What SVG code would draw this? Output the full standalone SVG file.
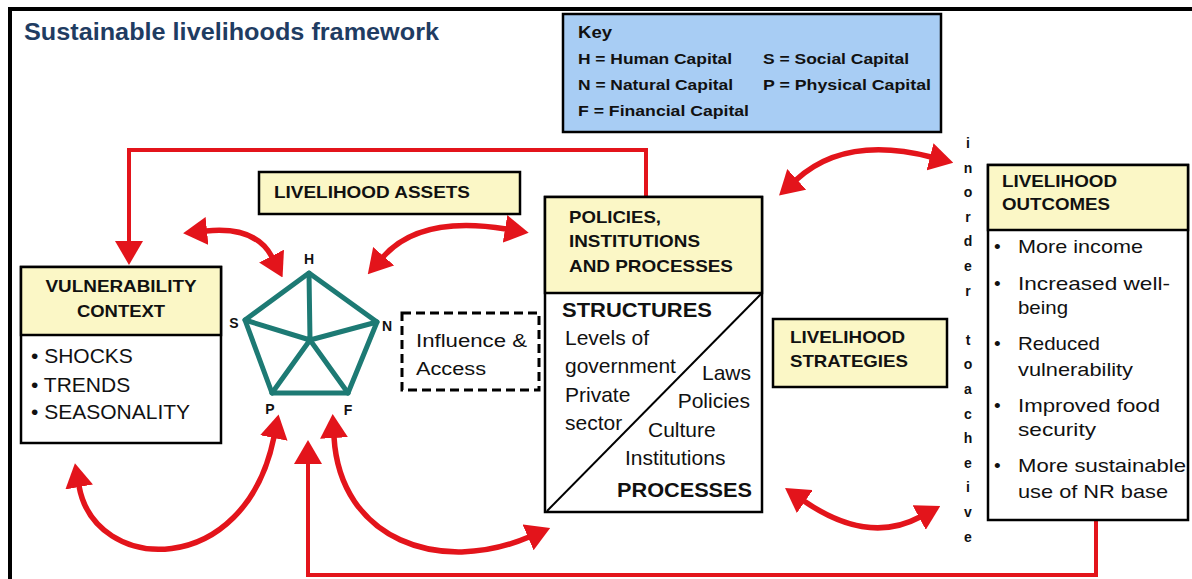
<svg xmlns="http://www.w3.org/2000/svg" width="1192" height="579" viewBox="0 0 1192 579">
<style>
text{font-family:"Liberation Sans",Arial,sans-serif;fill:#111}
.b{font-weight:bold}
.box{fill:#fff;stroke:#000;stroke-width:2.5}
.hdr{fill:#fbf7c6;stroke:#000;stroke-width:2.5}
.red{fill:none;stroke:#e3141b;stroke-width:5.5}
.conn{fill:none;stroke:#e3141b;stroke-width:4}
.pent{fill:none;stroke:#1d7a74;stroke-width:5;stroke-linejoin:round;stroke-linecap:round}
.key{font-size:14px;font-weight:bold}
.big{font-size:21px}
.hd{font-size:17px;font-weight:bold}
.ol{font-size:19px}
.vl{font-size:14px;font-weight:bold;text-anchor:middle}
</style>
<defs>
<marker id="ah" markerUnits="userSpaceOnUse" viewBox="0 0 24 28" refX="1" refY="14" markerWidth="24" markerHeight="28" orient="auto-start-reverse"><path d="M0,0 L24,14 L0,28 z" fill="#e3141b"/></marker>
</defs>
<rect width="1192" height="579" fill="#fff"/>
<g id="frame">
<rect x="8" y="7" width="1184" height="4" fill="#000"/>
<rect x="8" y="7" width="4" height="572" fill="#000"/>
</g>
<g id="title"><text x="24" y="40" class="b" style="font-size:23px;fill:#1f3c62" textLength="415" lengthAdjust="spacingAndGlyphs">Sustainable livelihoods framework</text></g>

<g id="key">
<rect x="563" y="14" width="378" height="118" fill="#a8cdf4" stroke="#000" stroke-width="2.5"/>
<text x="578" y="38" class="b" style="font-size:16px" textLength="34" lengthAdjust="spacingAndGlyphs">Key</text>
<text x="578" y="64" class="key" textLength="154" lengthAdjust="spacingAndGlyphs">H = Human Capital</text>
<text x="763" y="64" class="key" textLength="146" lengthAdjust="spacingAndGlyphs">S = Social Capital</text>
<text x="578" y="90" class="key" textLength="155" lengthAdjust="spacingAndGlyphs">N = Natural Capital</text>
<text x="763" y="90" class="key" textLength="168" lengthAdjust="spacingAndGlyphs">P = Physical Capital</text>
<text x="578" y="116" class="key" textLength="171" lengthAdjust="spacingAndGlyphs">F = Financial Capital</text>
</g>

<g id="connectors">
<path class="conn" d="M646,197 V150 H129 V242" marker-end="url(#ah)"/>
<path class="conn" d="M1096,521 V575 H308 V463" marker-end="url(#ah)"/>
<path class="red" d="M206,231 Q256,226 272,257" marker-start="url(#ah)" marker-end="url(#ah)"/>
<path class="red" d="M383,257 Q420,215 506,229" marker-start="url(#ah)" marker-end="url(#ah)"/>
<path class="red" d="M796,180 Q845,135 931,157" marker-start="url(#ah)" marker-end="url(#ah)"/>
<path class="red" d="M804,501 Q868,545 920,517" marker-start="url(#ah)" marker-end="url(#ah)"/>
<path class="red" d="M79,486 C95,575 245,580 274,437" marker-start="url(#ah)" marker-end="url(#ah)"/>
<path class="red" d="M334,437 C340,540 440,575 529,537" marker-start="url(#ah)" marker-end="url(#ah)"/>
</g>

<g id="vulnerability">
<rect x="21" y="267" width="200" height="176" class="box"/>
<rect x="21" y="267" width="200" height="68" class="hdr"/>
<text x="121" y="292" class="b" style="font-size:16px" text-anchor="middle" textLength="151" lengthAdjust="spacingAndGlyphs">VULNERABILITY</text>
<text x="121" y="317" class="b" style="font-size:16px" text-anchor="middle" textLength="88" lengthAdjust="spacingAndGlyphs">CONTEXT</text>
<text x="31" y="363" class="big">• SHOCKS</text>
<text x="31" y="392" class="big">• TRENDS</text>
<text x="31" y="419" class="big">• SEASONALITY</text>
</g>

<g id="assets">
<rect x="259" y="172" width="261" height="42" class="hdr"/>
<text x="274" y="198" class="hd" textLength="196" lengthAdjust="spacingAndGlyphs">LIVELIHOOD ASSETS</text>
</g>

<g id="pentagon">
<polygon class="pent" points="309,273 377,322 348,393 272,393 245,320"/>
<path class="pent" d="M310,340 L309,273 M310,340 L377,322 M310,340 L348,393 M310,340 L272,393 M310,340 L245,320"/>
<text x="309" y="264" class="b" style="font-size:14px" text-anchor="middle">H</text>
<text x="234" y="328" class="b" style="font-size:14px" text-anchor="middle">S</text>
<text x="387" y="331" class="b" style="font-size:14px" text-anchor="middle">N</text>
<text x="270" y="414" class="b" style="font-size:14px" text-anchor="middle">P</text>
<text x="348" y="415" class="b" style="font-size:14px" text-anchor="middle">F</text>
</g>

<g id="influence">
<rect x="402" y="313" width="137" height="77" fill="none" stroke="#000" stroke-width="3" stroke-dasharray="9,5"/>
<text x="416" y="347" style="font-size:18px" textLength="111" lengthAdjust="spacingAndGlyphs">Influence &amp;</text>
<text x="416" y="375" style="font-size:18px" textLength="70" lengthAdjust="spacingAndGlyphs">Access</text>
</g>

<g id="pip">
<rect x="545" y="197" width="217" height="315" class="box"/>
<rect x="545" y="197" width="217" height="96" class="hdr"/>
<text x="569" y="223" class="hd" textLength="92" lengthAdjust="spacingAndGlyphs">POLICIES,</text>
<text x="569" y="247" class="hd" textLength="131" lengthAdjust="spacingAndGlyphs">INSTITUTIONS</text>
<text x="569" y="272" class="hd" textLength="164" lengthAdjust="spacingAndGlyphs">AND PROCESSES</text>
<line x1="762" y1="293" x2="547" y2="511" stroke="#000" stroke-width="2"/>
<text x="562" y="317" class="big b" textLength="150" lengthAdjust="spacingAndGlyphs">STRUCTURES</text>
<text x="565" y="345" class="big">Levels of</text>
<text x="565" y="373" class="big">government</text>
<text x="565" y="402" class="big">Private</text>
<text x="565" y="430" class="big">sector</text>
<text x="751" y="380" class="big" text-anchor="end">Laws</text>
<text x="750" y="408" class="big" text-anchor="end">Policies</text>
<text x="648" y="437" class="big">Culture</text>
<text x="625" y="465" class="big">Institutions</text>
<text x="617" y="497" class="big b" textLength="135" lengthAdjust="spacingAndGlyphs">PROCESSES</text>
</g>

<g id="strategies">
<rect x="773" y="319" width="174" height="68" class="hdr"/>
<text x="790" y="343" class="hd" textLength="115" lengthAdjust="spacingAndGlyphs">LIVELIHOOD</text>
<text x="790" y="367" class="hd" textLength="118" lengthAdjust="spacingAndGlyphs">STRATEGIES</text>
</g>

<g id="inorder">
<text x="968" y="148" class="vl">i</text>
<text x="968" y="173" class="vl">n</text>
<text x="968" y="197" class="vl">o</text>
<text x="968" y="222" class="vl">r</text>
<text x="968" y="246" class="vl">d</text>
<text x="968" y="271" class="vl">e</text>
<text x="968" y="296" class="vl">r</text>
<text x="968" y="345" class="vl">t</text>
<text x="968" y="369" class="vl">o</text>
<text x="968" y="394" class="vl">a</text>
<text x="968" y="419" class="vl">c</text>
<text x="968" y="443" class="vl">h</text>
<text x="968" y="468" class="vl">e</text>
<text x="968" y="492" class="vl">i</text>
<text x="968" y="517" class="vl">v</text>
<text x="968" y="542" class="vl">e</text>
</g>

<g id="outcomes">
<rect x="988" y="165" width="200" height="355" class="box"/>
<rect x="988" y="165" width="200" height="65" class="hdr"/>
<text x="1002" y="187" class="hd" textLength="115" lengthAdjust="spacingAndGlyphs">LIVELIHOOD</text>
<text x="1002" y="210" class="hd" textLength="108" lengthAdjust="spacingAndGlyphs">OUTCOMES</text>
<text x="994" y="253" class="ol">•</text>
<text x="1018" y="253" class="ol" textLength="125" lengthAdjust="spacingAndGlyphs">More income</text>
<text x="994" y="290" class="ol">•</text>
<text x="1018" y="290" class="ol" textLength="152" lengthAdjust="spacingAndGlyphs">Increased well-</text>
<text x="1018" y="314" class="ol" textLength="50" lengthAdjust="spacingAndGlyphs">being</text>
<text x="994" y="350" class="ol">•</text>
<text x="1018" y="350" class="ol" textLength="82" lengthAdjust="spacingAndGlyphs">Reduced</text>
<text x="1018" y="376" class="ol" textLength="115" lengthAdjust="spacingAndGlyphs">vulnerability</text>
<text x="994" y="412" class="ol">•</text>
<text x="1018" y="412" class="ol" textLength="142" lengthAdjust="spacingAndGlyphs">Improved food</text>
<text x="1018" y="436" class="ol" textLength="78" lengthAdjust="spacingAndGlyphs">security</text>
<text x="994" y="472" class="ol">•</text>
<text x="1018" y="472" class="ol" textLength="168" lengthAdjust="spacingAndGlyphs">More sustainable</text>
<text x="1018" y="498" class="ol" textLength="150" lengthAdjust="spacingAndGlyphs">use of NR base</text>
</g>
</svg>
